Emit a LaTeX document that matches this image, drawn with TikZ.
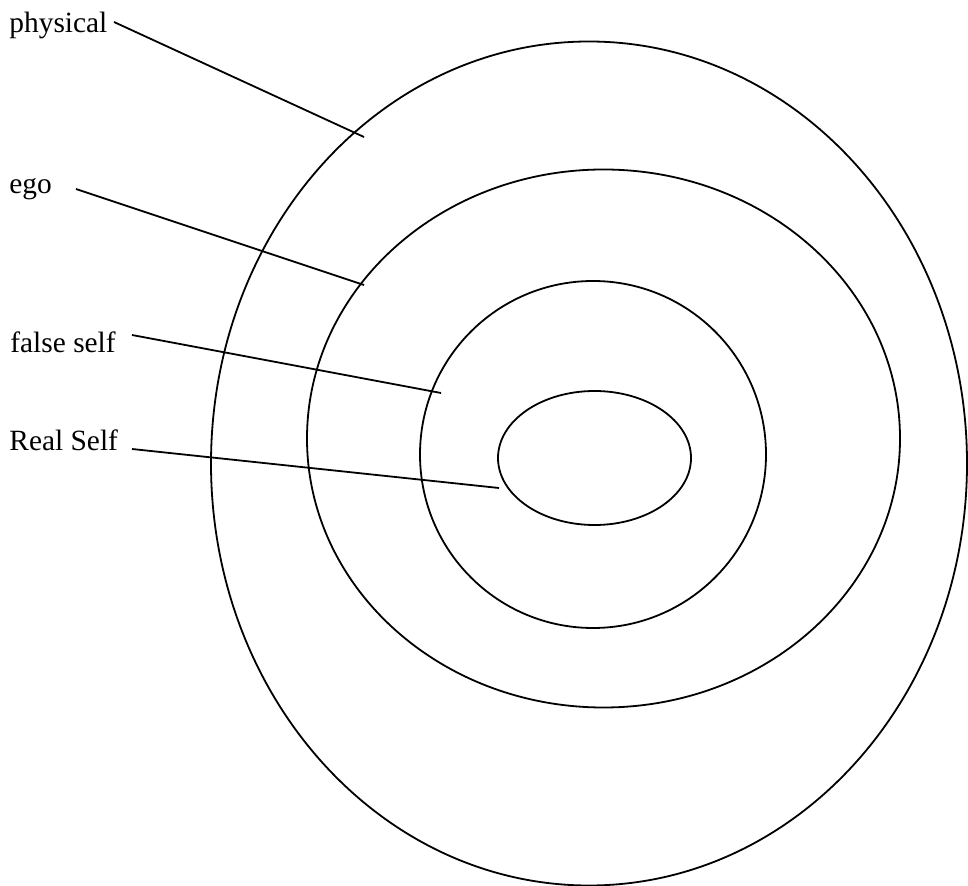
\documentclass[tikz,border=0pt]{standalone}
\usepackage{fontspec}
\setmainfont{Liberation Serif}
\usetikzlibrary{shapes.geometric}

\begin{document}
\begin{tikzpicture}[
    x=0.5pt, y=-0.5pt,
    every node/.style={font=\fontsize{14.7}{17}\selectfont},
    ring/.style={ellipse, draw, line width=0.9pt, inner sep=0pt, outer sep=0pt},
    tag/.style={anchor=base west, inner sep=0pt},
    pointer/.style={line width=0.9pt}
]
    \useasboundingbox (0,0) rectangle (968,886);

    % --- Rings ---
    \node[ring, minimum width=378pt, minimum height=422pt] (physical) at (589,463.5) {};
    \node[ring, minimum width=296.5pt, minimum height=269pt] (ego) at (603.5,438.5) {};
    \node[ring, minimum width=173pt, minimum height=173.5pt] (false) at (593,454.5) {};
    \node[ring, minimum width=96.5pt, minimum height=67pt] (real) at (594.5,458) {};

    % --- Labels ---
    \node[tag] (physical label) at (9,33) {physical};
    \node[tag] (ego label) at (9,194) {ego};
    \node[tag] (false label) at (10,353) {false self};
    \node[tag] (real label) at (9,451) {Real Self};

    % --- Pointer ends ---
    \coordinate (physical from) at (114,22);
    \coordinate (physical to) at (364,137);
    \coordinate (ego from) at (76,189);
    \coordinate (ego to) at (364,285);
    \coordinate (false from) at (132,335);
    \coordinate (false to) at (441,393);
    \coordinate (real from) at (132,449);
    \coordinate (real to) at (499,488);

    % --- Pointers ---
    \draw[pointer] (physical from) -- (physical to);
    \draw[pointer] (ego from) -- (ego to);
    \draw[pointer] (false from) -- (false to);
    \draw[pointer] (real from) -- (real to);
\end{tikzpicture}
\end{document}
